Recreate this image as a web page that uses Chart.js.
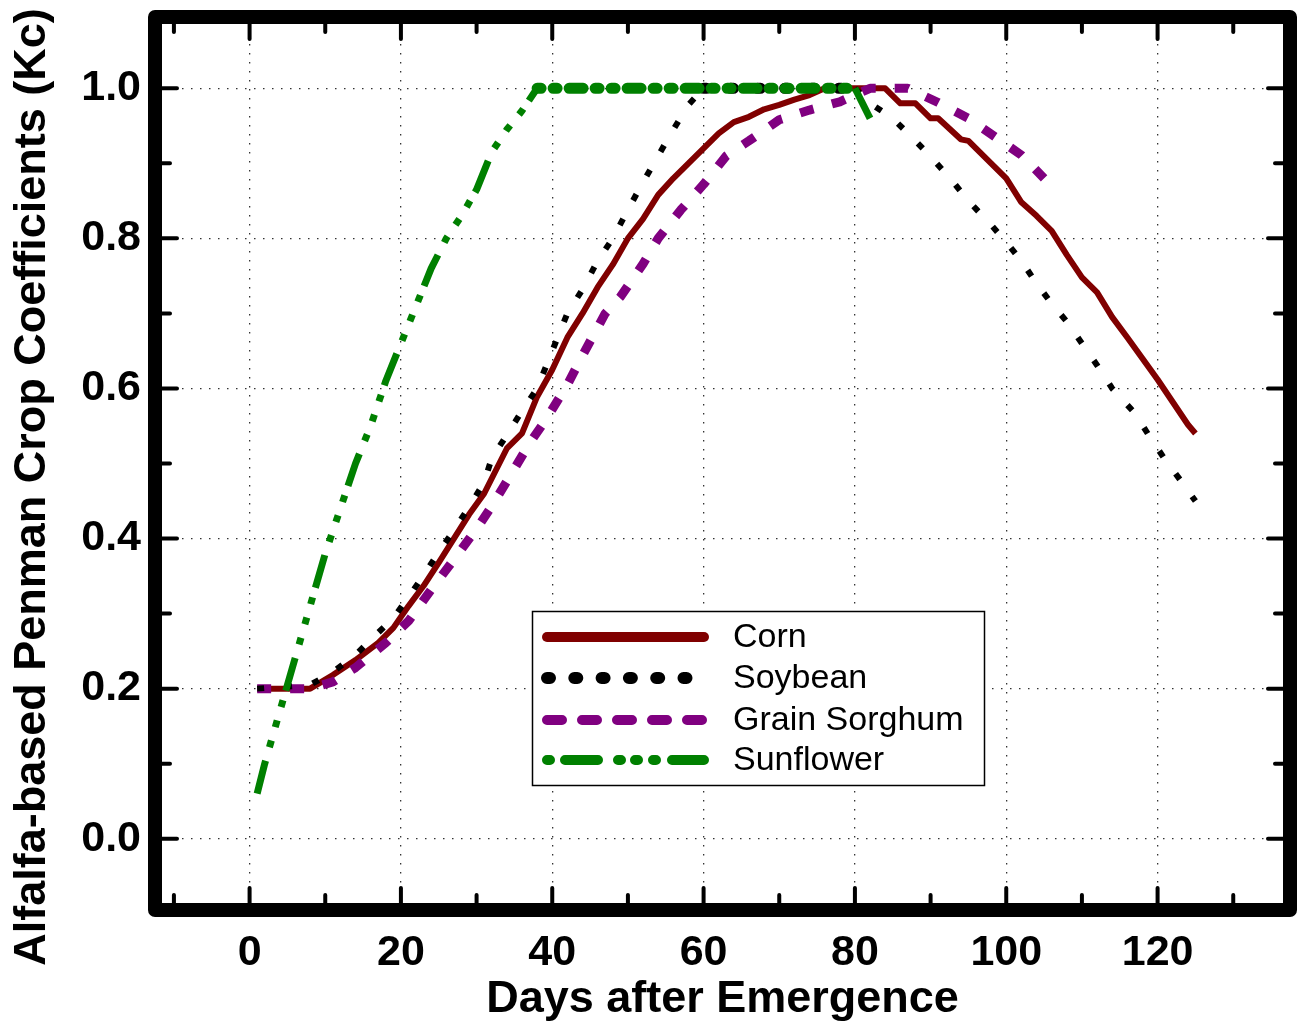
<!DOCTYPE html>
<html>
<head>
<meta charset="utf-8">
<title>Alfalfa-based Penman Crop Coefficients</title>
<script src="https://cdn.jsdelivr.net/npm/chart.js@4.4.1/dist/chart.umd.min.js"></script>
<style>
    html, body { margin: 0; padding: 0; background: #ffffff; }
    #wrap { width: 1302px; height: 1031px; }
</style>
</head>
<body>
<div id="wrap"><canvas id="kcChart" width="1302" height="1031"></canvas></div>
<script>
"use strict";

// Axis ticks
var xTickValues = [0, 20, 40, 60, 80, 100, 120];
var xMinorTicks = [-10, 10, 30, 50, 70, 90, 110, 130];
var yTickValues = [0.0, 0.2, 0.4, 0.6, 0.8, 1.0];
var yMinorTicks = [0.1, 0.3, 0.5, 0.7, 0.9];

// Series (days after emergence, Kc)
var cornDays = [1, 8, 11, 14, 17, 19, 21, 23, 25, 27, 29, 31, 34, 36, 38, 40, 42, 44, 46, 48, 50, 52, 54, 56, 58, 60, 62, 64, 66, 68, 70, 72, 74, 76, 84, 86, 88, 90, 91, 94, 95, 98, 100, 102, 104, 106, 108, 110, 112, 114, 116, 118, 120, 122, 124, 125];
var cornKc = [0.20, 0.20, 0.218, 0.238, 0.261, 0.281, 0.31, 0.337, 0.368, 0.40, 0.432, 0.46, 0.52, 0.54, 0.589, 0.625, 0.668, 0.70, 0.735, 0.765, 0.80, 0.826, 0.858, 0.88, 0.90, 0.92, 0.94, 0.955, 0.962, 0.972, 0.978, 0.985, 0.991, 1.0, 1.0, 0.98, 0.98, 0.96, 0.96, 0.932, 0.93, 0.90, 0.88, 0.848, 0.83, 0.81, 0.778, 0.748, 0.728, 0.695, 0.668, 0.64, 0.612, 0.582, 0.552, 0.54];

var soyDays = [1, 8, 11, 14, 16, 19, 21, 23, 25, 27, 29, 31, 32, 34, 36, 38, 40, 42, 44, 46, 48, 50, 52, 54, 56, 58, 60, 80, 82, 85, 88, 90, 93, 95, 98, 100, 102, 104, 106, 108, 110, 112, 114, 117, 119, 121, 123, 125];
var soyKc = [0.20, 0.205, 0.222, 0.245, 0.265, 0.294, 0.322, 0.351, 0.382, 0.411, 0.442, 0.475, 0.507, 0.538, 0.57, 0.60, 0.65, 0.70, 0.732, 0.77, 0.80, 0.838, 0.875, 0.91, 0.945, 0.978, 1.0, 1.0, 0.98, 0.96, 0.93, 0.909, 0.875, 0.85, 0.818, 0.795, 0.77, 0.74, 0.713, 0.689, 0.66, 0.631, 0.60, 0.567, 0.535, 0.505, 0.478, 0.45];

var sorghumDays = [1, 8, 11, 14, 18, 21, 24, 27, 30, 32, 35, 37, 39, 42, 44, 47, 49, 52, 54, 57, 60, 63, 66, 70, 74, 78, 82, 87, 91, 95, 99, 102, 105];
var sorghumKc = [0.20, 0.20, 0.209, 0.228, 0.261, 0.29, 0.332, 0.372, 0.413, 0.443, 0.493, 0.527, 0.556, 0.605, 0.644, 0.70, 0.722, 0.766, 0.80, 0.838, 0.872, 0.91, 0.93, 0.958, 0.971, 0.982, 1.0, 1.0, 0.981, 0.96, 0.932, 0.911, 0.88];

var sunDays = [1, 2, 4, 6, 8, 10, 12, 14, 16, 18, 20, 22, 24, 26, 28, 30, 32, 34, 36, 38, 80, 82];
var sunKc = [0.06, 0.10, 0.17, 0.24, 0.31, 0.38, 0.44, 0.50, 0.55, 0.61, 0.66, 0.71, 0.76, 0.80, 0.83, 0.865, 0.915, 0.945, 0.97, 1.0, 1.0, 0.96];

var seriesNames = ["Corn", "Soybean", "Grain Sorghum", "Sunflower"];

function toPoints(days, kc) {
    return days.map(function (d, i) { return { x: d, y: kc[i] }; });
}

// segment sits on the Kc = 1.0 plateau
function onPlateau(seg) {
    return seg.p0.parsed.y >= 1 && seg.p1.parsed.y >= 1;
}

var FONT = '"Liberation Sans", Arial, Helvetica, sans-serif';
Chart.defaults.font.family = FONT;
Chart.defaults.color = "#000";

// legend line samples (wider than plot lines)
var legendStyles = [
    { width: 10, dash: [] },
    { width: 12, dash: [3, 24.3] },
    { width: 10, dash: [15, 20] },
    { width: 10, dash: [3, 15, 33, 20, 3, 14, 3, 15, 3, 16, 33, 100] }
];

var framePlugin = {
    id: "frame",
    afterDatasetsDraw: function (chart) {
        var ctx = chart.ctx, a = chart.chartArea;
        var xs = chart.scales.x, ys = chart.scales.y;
        ctx.save();
        ctx.strokeStyle = "#000";
        ctx.lineCap = "round";

        function tick(v, len, horiz) {
            ctx.beginPath();
            if (horiz) {
                var px = xs.getPixelForValue(v);
                ctx.moveTo(px, a.bottom); ctx.lineTo(px, a.bottom - len);
                ctx.moveTo(px, a.top); ctx.lineTo(px, a.top + len);
            } else {
                var py = ys.getPixelForValue(v);
                ctx.moveTo(a.left, py); ctx.lineTo(a.left + len, py);
                ctx.moveTo(a.right, py); ctx.lineTo(a.right - len, py);
            }
            ctx.stroke();
        }
        ctx.lineWidth = 4;
        xTickValues.forEach(function (v) { tick(v, 22, true); });
        xMinorTicks.forEach(function (v) { tick(v, 15, true); });
        yTickValues.forEach(function (v) { tick(v, 22, false); });
        yMinorTicks.forEach(function (v) { tick(v, 15, false); });

        // thick box
        ctx.lineWidth = 14;
        ctx.lineJoin = "round";
        ctx.strokeRect(a.left, a.top, a.right - a.left, a.bottom - a.top);
        ctx.restore();
    },
    afterDraw: function (chart) {
        var ctx = chart.ctx;
        ctx.save();

        // y axis title (drawn by hand so it sits where the original does)
        ctx.translate(33, 487);
        ctx.rotate(-Math.PI / 2);
        ctx.font = "bold 45px " + FONT;
        ctx.fillStyle = "#000";
        ctx.textAlign = "center";
        ctx.textBaseline = "middle";
        ctx.fillText("Alfalfa-based Penman Crop Coefficients (Kc)", 0, 0);
        ctx.restore();

        // legend box
        ctx.save();
        ctx.fillStyle = "#fff";
        ctx.fillRect(532, 611, 453, 175);
        ctx.strokeStyle = "#000";
        ctx.lineWidth = 1.5;
        ctx.strokeRect(532.5, 611.5, 452, 174);

        var rows = [637, 678, 720, 760];
        chart.data.datasets.forEach(function (ds, i) {
            var st = legendStyles[i];
            ctx.beginPath();
            ctx.strokeStyle = ds.borderColor;
            ctx.lineWidth = st.width;
            ctx.lineCap = "round";
            ctx.setLineDash(st.dash);
            ctx.moveTo(547, rows[i]);
            ctx.lineTo(704, rows[i]);
            ctx.stroke();
            ctx.setLineDash([]);
            ctx.fillStyle = "#000";
            ctx.font = "34px " + FONT;
            ctx.textAlign = "left";
            ctx.textBaseline = "middle";
            ctx.fillText(ds.label, 733, rows[i] + 1);
        });
        ctx.restore();
    }
};

var config = {
    type: "line",
    data: {
        datasets: [{
            label: seriesNames[0],
            data: toPoints(cornDays, cornKc),
            borderColor: "#800000",
            borderWidth: 6,
            order: 3
        }, {
            label: seriesNames[1],
            data: toPoints(soyDays, soyKc),
            borderColor: "#000000",
            borderWidth: 6,
            borderDash: [7, 21],
            segment: {
                borderWidth: function (seg) { return onPlateau(seg) ? 11 : undefined; },
                borderCapStyle: function (seg) { return onPlateau(seg) ? "round" : undefined; },
                borderDash: function (seg) { return onPlateau(seg) ? [3, 24] : undefined; }
            },
            order: 1
        }, {
            label: seriesNames[2],
            data: toPoints(sorghumDays, sorghumKc),
            borderColor: "#800080",
            borderWidth: 9,
            borderDash: [14, 19],
            order: 2
        }, {
            label: seriesNames[3],
            data: toPoints(sunDays, sunKc),
            borderColor: "#008000",
            borderWidth: 7,
            borderDash: [34, 14, 7, 14, 7, 14, 7, 10],
            segment: {
                borderWidth: function (seg) { return onPlateau(seg) ? 11 : undefined; },
                borderCapStyle: function (seg) { return onPlateau(seg) ? "round" : undefined; },
                borderDash: function (seg) { return onPlateau(seg) ? [4, 12, 4, 12, 14, 12] : undefined; }
            },
            order: 0
        }]
    },
    options: {
        responsive: false,
        animation: false,
        devicePixelRatio: 1,
        layout: { padding: { left: 0, right: 12, top: 17, bottom: 0 } },
        elements: {
            point: { radius: 0 },
            line: { tension: 0, borderJoinStyle: "round", fill: false }
        },
        scales: {
            x: {
                type: "linear",
                min: -12.5,
                max: 137.5,
                afterBuildTicks: function (scale) {
                    scale.ticks = xTickValues.map(function (v) { return { value: v }; });
                },
                afterFit: function (scale) {
                    scale.height = 121;
                    scale.paddingLeft = 0;
                    scale.paddingRight = 0;
                },
                grid: { color: "#333", lineWidth: 1.3, drawTicks: false },
                border: { display: false, dash: [1.5, 7.5] },
                ticks: {
                    padding: 17,
                    maxRotation: 0,
                    font: { size: 43, weight: "bold" },
                    callback: function (v) { return v; }
                },
                title: {
                    display: true,
                    text: "Days after Emergence",
                    font: { size: 45, weight: "bold" },
                    padding: { top: 4, bottom: 4 }
                }
            },
            y: {
                type: "linear",
                min: -0.095,
                max: 1.095,
                afterBuildTicks: function (scale) {
                    scale.ticks = yTickValues.map(function (v) { return { value: v }; });
                },
                afterFit: function (scale) {
                    scale.width = 155;
                    scale.paddingTop = 0;
                    scale.paddingBottom = 0;
                },
                grid: { color: "#333", lineWidth: 1.3, drawTicks: false },
                border: { display: false, dash: [1.5, 7.5] },
                ticks: {
                    padding: 14,
                    font: { size: 43, weight: "bold" },
                    callback: function (v) { return Number(v).toFixed(1); }
                }
            }
        },
        plugins: {
            legend: { display: false },
            tooltip: { enabled: false }
        }
    },
    plugins: [framePlugin]
};

var ctx = document.getElementById("kcChart").getContext("2d");
var kcChart = new Chart(ctx, config);
</script>
</body>
</html>
